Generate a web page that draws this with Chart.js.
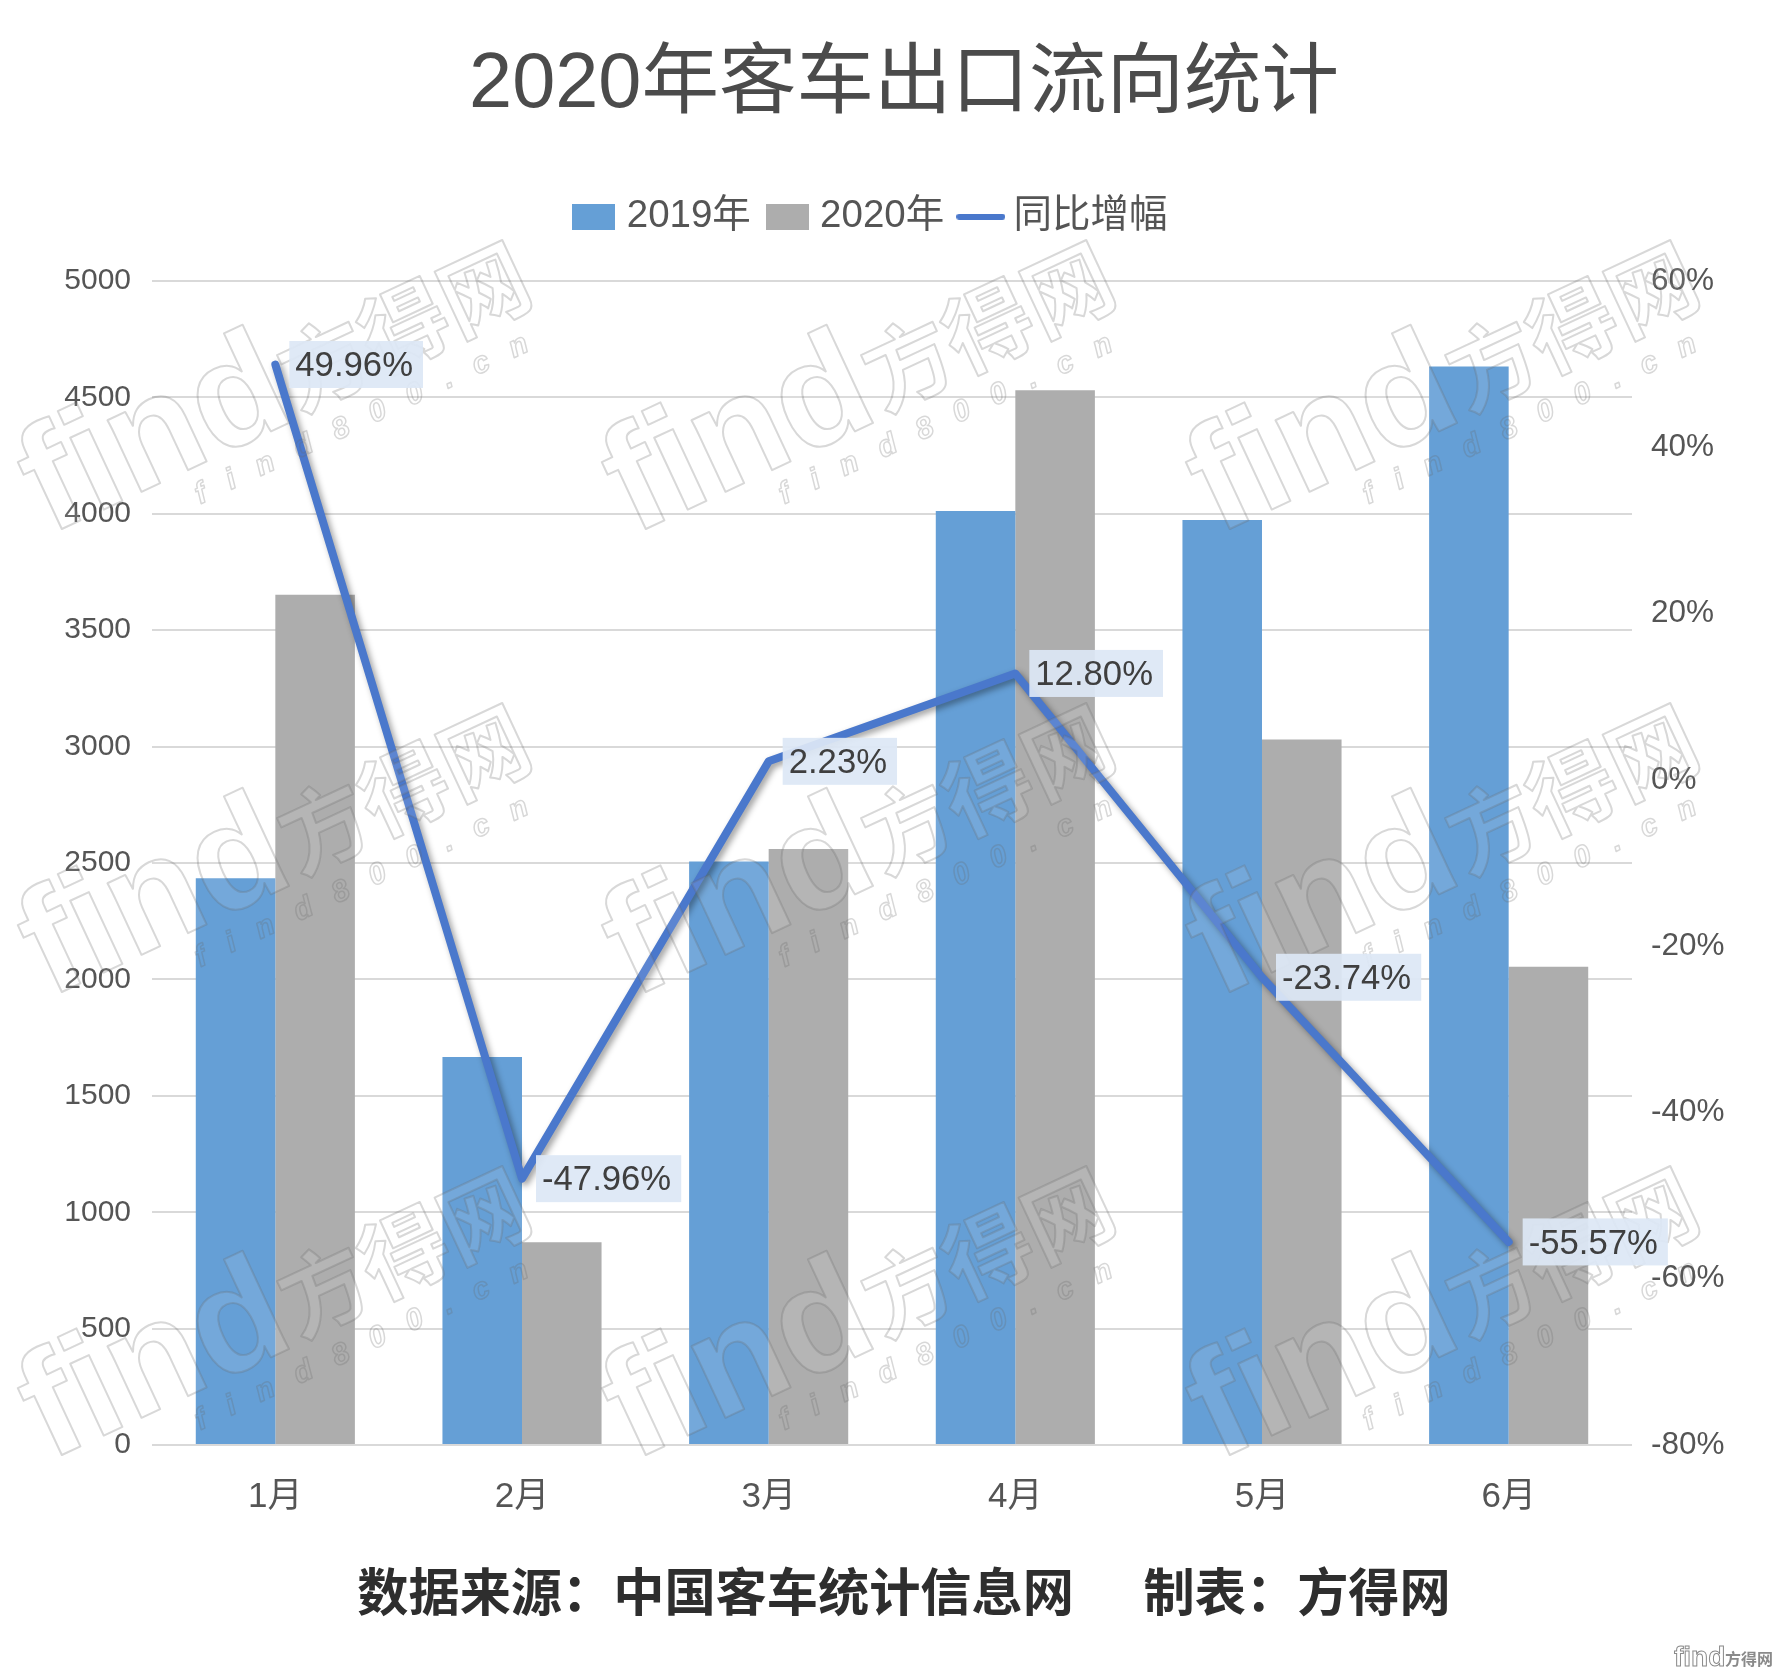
<!DOCTYPE html>
<html lang="zh-CN">
<head>
<meta charset="utf-8">
<title>2020年客车出口流向统计</title>
<script src="https://cdn.jsdelivr.net/npm/chart.js@4/dist/chart.umd.min.js"></script>
<style>html,body{margin:0;padding:0;background:#fff}canvas{display:block}</style>
</head>
<body>
<canvas id="c" width="1772" height="1672" style="width:1772px;height:1672px"></canvas>
<script>
const months = ['1月','2月','3月','4月','5月','6月'];
const sales2019 = [2435, 1667, 2507, 4012, 3973, 4633];
const sales2020 = [3652, 871, 2560, 4531, 3031, 2055];
const growth = [49.96, -47.96, 2.23, 12.80, -23.74, -55.57];
const titleText = '2020年客车出口流向统计';
const sourceText = '数据来源：中国客车统计信息网      制表：方得网';
const seriesNames = ['2019年','2020年','同比增幅'];

const SANS = '"Liberation Sans","Noto Sans CJK SC",sans-serif';
const BLUE = '#659fd6', GRAY = '#adadad', LINE = '#4a78cc', TEXT = '#555555';

function swatch(w, h, color, round) {
  const c = document.createElement('canvas');
  c.width = w; c.height = h;
  const x = c.getContext('2d');
  x.fillStyle = color;
  if (round) { x.beginPath(); x.roundRect(0, 0, w, h, h / 2); x.fill(); }
  else x.fillRect(0, 0, w, h);
  return c;
}
const legendMarks = [swatch(43, 26, BLUE), swatch(43, 26, GRAY), swatch(49, 6, LINE, true)];

const layoutTweaks = {
  id: 'layoutTweaks',
  afterLayout(chart) {
    const l = chart.legend;
    l.left -= 30; l.right -= 30;
    l.top -= 35; l.bottom -= 35;
  }
};

const lineShadow = {
  id: 'lineShadow',
  beforeDatasetDraw(chart, args) {
    if (args.index !== 2) return;
    const ctx = chart.ctx;
    ctx.save();
    ctx.shadowColor = 'rgba(0,0,0,0.38)';
    ctx.shadowBlur = 6; ctx.shadowOffsetX = 3; ctx.shadowOffsetY = 3;
  },
  afterDatasetDraw(chart, args) {
    if (args.index === 2) chart.ctx.restore();
  }
};

const overlay = {
  id: 'overlay',
  afterDatasetsDraw(chart) {
    const ctx = chart.ctx;
    const cols = [49, 633, 1217], rows = [535, 998, 1461];
    ctx.save();
    ctx.lineJoin = 'round';
    rows.forEach(ry => cols.forEach(cx => {
      ctx.save();
      ctx.translate(cx, ry);
      ctx.rotate(-25 * Math.PI / 180);
      ctx.textAlign = 'left'; ctx.textBaseline = 'alphabetic';
      ctx.strokeStyle = 'rgba(105,105,105,0.26)';
      ctx.fillStyle = 'rgba(255,255,255,0.10)';
      ctx.lineWidth = 2;
      ctx.font = 'bold 150px ' + SANS;
      ctx.fillText('find', 0, 0);
      ctx.strokeText('find', 0, 0);
      ctx.font = 'bold 88px ' + SANS;
      ctx.fillText('方得网', 278, -6);
      ctx.strokeText('方得网', 278, -6);
      ctx.font = 'italic bold 30px ' + SANS;
      ctx.letterSpacing = '24px';
      ctx.lineWidth = 1.5;
      ctx.strokeText('find800.cn', 150, 36);
      ctx.restore();
    }));
    ctx.restore();

    const pts = chart.getDatasetMeta(2).data;
    ctx.save();
    ctx.font = '34.7px ' + SANS;
    ctx.textBaseline = 'middle';
    ctx.textAlign = 'left';
    pts.forEach((p, i) => {
      const t = growth[i].toFixed(2) + '%';
      const w = ctx.measureText(t).width + 16;
      const x = p.x + 14, y = p.y - 23.5;
      ctx.fillStyle = 'rgba(221,231,245,0.93)';
      ctx.fillRect(x, y, w, 47);
      ctx.fillStyle = '#3f3f3f';
      ctx.fillText(t, x + 6, p.y + 2);
    });
    ctx.restore();

    ctx.save();
    ctx.textBaseline = 'alphabetic'; ctx.textAlign = 'left';
    ctx.font = 'bold 28px ' + SANS;
    ctx.strokeStyle = '#8a8a8a'; ctx.lineWidth = 1;
    ctx.strokeText('find', 1674, 1666);
    ctx.font = 'bold 16px ' + SANS;
    ctx.fillStyle = '#8a8a8a';
    ctx.fillText('方得网', 1725, 1665);
    ctx.restore();
  }
};

new Chart(document.getElementById('c'), {
  data: {
    labels: months,
    datasets: [
      { type: 'bar', label: seriesNames[0], data: sales2019, backgroundColor: BLUE, yAxisID: 'y', order: 2,
        categoryPercentage: 0.645, barPercentage: 1 },
      { type: 'bar', label: seriesNames[1], data: sales2020, backgroundColor: GRAY, yAxisID: 'y', order: 2,
        categoryPercentage: 0.645, barPercentage: 1 },
      { type: 'line', label: seriesNames[2], data: growth, borderColor: LINE, borderWidth: 8, yAxisID: 'y1', order: 1,
        pointRadius: 0, tension: 0, fill: false, borderJoinStyle: 'round', borderCapStyle: 'round' }
    ]
  },
  options: {
    responsive: false,
    devicePixelRatio: 1,
    animation: false,
    layout: { padding: { left: 36, right: 0, top: 0, bottom: 0 } },
    plugins: {
      title: { display: true, text: titleText, color: '#4b4b4b',
        font: { family: SANS, size: 77.5, weight: 'normal' },
        padding: { top: 39, bottom: 77.5 } },
      subtitle: { display: true, position: 'bottom', text: sourceText, color: '#2e2e2e',
        font: { family: '"Noto Sans CJK SC",sans-serif', size: 51.2, weight: 'bold' },
        padding: { top: 0, bottom: 50 } },
      legend: { display: true, position: 'top',
        labels: {
          usePointStyle: true, pointStyleWidth: 27, padding: 23, color: TEXT,
          font: { family: SANS, size: 38.5 },
          generateLabels: () => seriesNames.map((n, i) => ({
            text: n, datasetIndex: i, pointStyle: legendMarks[i], fontColor: TEXT, hidden: false, lineWidth: 0
          }))
        } },
      tooltip: { enabled: false }
    },
    scales: {
      x: {
        grid: { display: false, drawTicks: false }, border: { display: false },
        ticks: { color: TEXT, padding: 31, font: { family: SANS, size: 35 }, maxRotation: 0 },
        afterFit(s) { s.height = 115.5; }
      },
      y: {
        position: 'left', min: 0, max: 5000,
        grid: { color: '#d9d9d9', lineWidth: 2, drawTicks: false }, border: { display: false },
        ticks: { stepSize: 500, color: TEXT, padding: 21, font: { family: SANS, size: 30 },
          callback: v => String(v) },
        afterFit(s) { s.width = 116; }
      },
      y1: {
        position: 'right', min: -80, max: 60,
        grid: { display: false, drawTicks: false }, border: { display: false },
        ticks: { stepSize: 20, color: TEXT, padding: 19, font: { family: SANS, size: 31.5 },
          callback: v => v + '%' },
        afterFit(s) { s.width = 140; }
      }
    }
  },
  plugins: [layoutTweaks, lineShadow, overlay]
});
</script>
</body>
</html>
